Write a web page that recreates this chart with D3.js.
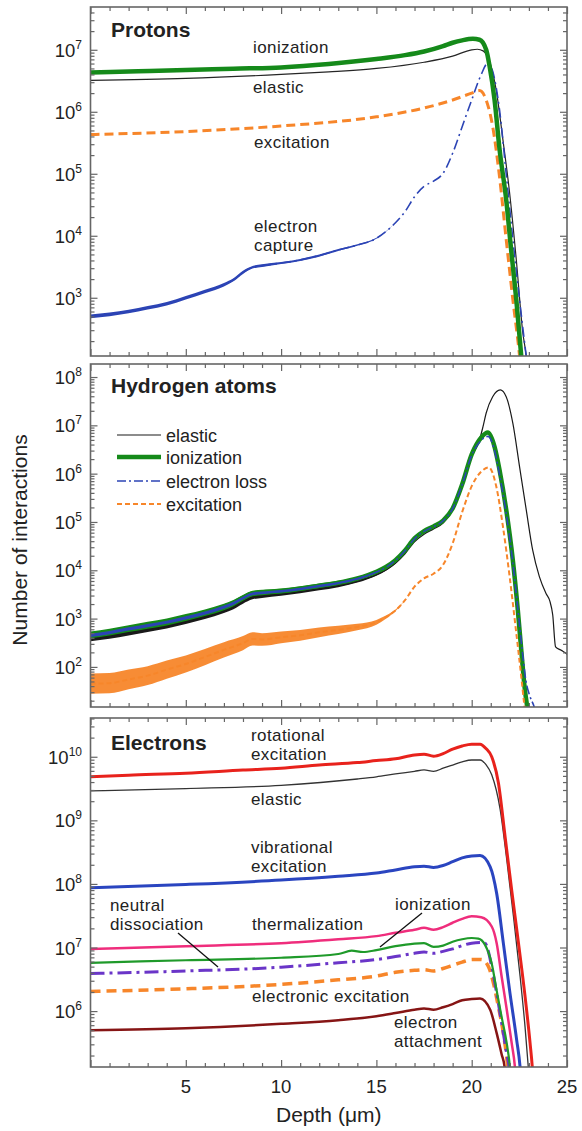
<!DOCTYPE html>
<html><head><meta charset="utf-8">
<script src="https://cdn.jsdelivr.net/npm/d3@7"></script>
<style>body{margin:0;background:#fff} text{font-family:"Liberation Sans",Arial,sans-serif;fill:#222}</style>
</head><body><svg id="c" width="582" height="1131"></svg>
<script>
// ---------- DATA ----------
// x ticks
const depthTicks = [5, 10, 15, 20, 25];
const panelTitles = ["Protons", "Hydrogen atoms", "Electrons"];
const yDecades = [[3,4,5,6,7],[2,3,4,5,6,7,8],[6,7,8,9,10]];
const yDomains = [[115, 4.9e7],[14.8, 1.86e8],[1.32e5, 4.07e10]];

// Protons: [depth (um), count, scatter factor]
const protonElastic = [[0,3.2e6],[5,3.45e6],[10,4.0e6],[12.5,4.4e6],[15,5.0e6],[17.5,6.3e6],[19,7.9e6],[20,1.0e7],[20.3,1.02e7],[20.6,9.6e6],[20.94,6.5e6],[21.29,2.2e6],[21.64,3.5e5],[21.99,4.9e4],[22.34,4.1e3],[22.68,2.75e2],[22.86,1.15e2],[23.0,40]];
const protonIonization = [[0,4.3e6],[2.5,4.5e6],[5,4.7e6],[7.5,4.95e6],[10,5.2e6],[12.5,5.9e6],[15,7.1e6],[16.5,8.2e6],[17.5,9.4e6],[18.5,1.15e7],[19,1.3e7],[19.5,1.42e7],[20.06,1.5e7],[20.41,1.45e7],[20.76,1.0e7],[20.94,5.4e6],[21.2,1.55e6],[21.46,2.5e5],[21.81,3.8e4],[22.07,5.9e3],[22.34,930],[22.6,115],[22.75,40]];
const protonExcitation = [[0,4.3e5],[5,4.8e5],[10,5.9e5],[15,8.3e5],[17.5,1.15e6],[19,1.55e6],[20,2.0e6],[20.41,2.2e6],[20.76,1.55e6],[21.1,5.8e5],[21.46,8.9e4],[21.81,8.7e3],[22.16,930],[22.51,115],[22.65,40]];
const protonCapture = [[0,500,1.07],[1,540,1.07],[2,600,1.07],[3,690,1.07],[4,800,1.07],[5,1000,1.07],[6,1260,1.07],[7,1620,1.07],[7.5,1950,1.06],[8,2570,1.06],[8.5,3100,1.05],[9,3300,1.05],[10,3630,1.04],[11,4070,1.04],[12,4790,1.04],[13,5890,1.035],[14,7080,1.03],[15,9100,1.02],[15.5,1.17e4,1.01],[16,1.62e4],[16.5,2.45e4],[17,4.27e4],[17.5,6.3e4],[18,7.6e4],[18.5,1.02e5],[19,2.14e5],[19.5,5.75e5],[20,1.55e6],[20.5,4.0e6],[20.85,6.1e6],[21.1,4.5e6],[21.46,1.07e6],[21.81,1.0e5],[22.16,8.7e3],[22.51,930],[22.86,115],[23.05,40]];

// Hydrogen atoms
const hElastic = [[0,380,1.12],[1,430,1.12],[2,500,1.12],[3,590,1.12],[4,700,1.12],[5,870,1.12],[6,1100,1.12],[7,1450,1.11],[7.5,1740,1.11],[8,2240,1.1],[8.5,2750,1.1],[9,2950,1.1],[10,3240,1.09],[11,3630,1.08],[12,4170,1.08],[13,4790,1.07],[14,5890,1.06],[15,8100,1.05],[15.5,1.02e4,1.04],[16,1.4e4,1.02],[16.5,2.2e4],[17,3.9e4],[17.5,5.6e4],[18,7.2e4],[18.5,9.5e4],[19,1.8e5],[19.5,6.5e5],[20,2.3e6],[20.41,5.0e6],[20.59,9.3e6],[20.76,1.8e7],[21.1,3.9e7],[21.5,5.4e7],[21.81,3.9e7],[22.16,1.1e7],[22.51,1.4e6],[22.86,1.8e5],[23.2,2.6e4],[23.55,7.4e3],[23.9,3.3e3],[24.1,2.3e3],[24.25,1.2e3],[24.4,260],[24.7,220],[24.95,190],[25,180]];
const hIonization = [[0,460,1.18],[1,525,1.18],[2,620,1.18],[3,725,1.18],[4,850,1.18],[5,1050,1.18],[6,1320,1.17],[7,1740,1.17],[7.5,2090,1.16],[8,2690,1.15],[8.5,3310,1.14],[9,3470,1.14],[10,3720,1.13],[11,4170,1.12],[12,4790,1.11],[13,5500,1.1],[14,6760,1.08],[15,9300,1.06],[15.5,1.17e4,1.04],[16,1.62e4,1.02],[16.5,2.57e4],[17,4.57e4],[17.5,6.46e4],[18,8.1e4],[18.5,1.07e5],[19,1.9e5],[19.5,6.0e5],[20,2.5e6],[20.5,5.6e6],[20.85,7.1e6],[21.2,3.6e6],[21.46,1.2e6],[21.81,1.8e5],[22.16,1.6e4],[22.42,1.5e3],[22.6,224],[22.77,40],[22.95,12]];
const hElectronLoss = [[0,450,1.08],[1,515,1.08],[2,610,1.08],[3,715,1.08],[4,840,1.08],[5,1040,1.08],[6,1300,1.08],[7,1720,1.08],[7.5,2060,1.08],[8,2650,1.07],[8.5,3260,1.07],[9,3420,1.07],[10,3670,1.06],[11,4100,1.06],[12,4720,1.06],[13,5420,1.05],[14,6650,1.05],[15,9150,1.03],[15.5,1.15e4],[16,1.6e4],[16.5,2.53e4],[17,4.5e4],[17.5,6.4e4],[18,8.0e4],[18.5,1.06e5],[19,1.88e5],[19.5,5.9e5],[20,2.4e6],[20.5,4.9e6],[20.85,5.9e6],[21.2,3.0e6],[21.46,9.5e5],[21.81,1.5e5],[22.16,1.4e4],[22.42,1.6e3],[22.65,220],[22.85,50],[23.05,25],[23.25,16],[23.4,10]];
const hExcitation = [[0,45,1.62],[1,46,1.62],[2,55,1.6],[3,66,1.57],[4,88,1.54],[5,115,1.5],[6,160,1.47],[7,225,1.44],[8,310,1.4],[8.5,380,1.37],[9,370,1.35],[10,410,1.32],[11,450,1.29],[12,520,1.26],[13,585,1.22],[14,670,1.17],[15,840,1.12],[15.5,1070,1.08],[16,1480,1.04],[16.5,2400],[17,4570],[17.5,6800],[18,8500],[18.5,1.3e4],[19,3.6e4],[19.5,1.6e5],[20,5.5e5],[20.5,1.1e6],[20.9,1.35e6],[21.29,5.4e5],[21.64,8e4],[21.99,7.4e3],[22.34,500],[22.6,63],[22.77,15],[22.85,8]];

// Electrons
const eRotational = [[0,4.84e9],[2,5.13e9],[5,5.5e9],[8,6.17e9],[10,6.6e9],[12,7.4e9],[14,8.1e9],[15,8.7e9],[16,9.3e9],[17,1.07e10],[17.5,1.1e10],[18,1.02e10],[18.5,1.12e10],[19,1.32e10],[19.5,1.48e10],[20,1.58e10],[20.44,1.58e10],[20.75,1.35e10],[21.05,1.0e10],[21.4,3.9e9],[21.75,5.6e8],[22.1,7.9e7],[22.45,1.2e7],[22.8,1.7e6],[23.06,3.2e5],[23.18,1.3e5],[23.25,6e4]];
const eElastic = [[0,2.9e9],[5,3.16e9],[10,3.55e9],[14,4.47e9],[15,4.84e9],[16,5.37e9],[17,5.9e9],[17.5,6.2e9],[18,5.9e9],[18.5,6.6e9],[19,7.4e9],[19.5,8.3e9],[20,8.9e9],[20.44,8.9e9],[20.75,7.5e9],[21.05,5.2e9],[21.49,1.5e9],[21.84,2.4e8],[22.19,3.1e7],[22.54,3.5e6],[22.8,5.6e5],[22.97,1.3e5],[23.05,6e4]];
const eVibrational = [[0,8.7e7],[5,9.8e7],[10,1.15e8],[13,1.32e8],[15,1.48e8],[16,1.66e8],[17,1.86e8],[17.5,1.9e8],[18,1.82e8],[18.5,1.95e8],[19,2.24e8],[19.5,2.57e8],[20,2.75e8],[20.44,2.8e8],[20.97,1.86e8],[21.31,7.1e7],[21.66,1.17e7],[22.01,1.9e6],[22.36,3.5e5],[22.54,1.3e5],[22.62,6e4]];
const eThermalization = [[0,9.5e6],[5,1.05e7],[10,1.17e7],[13,1.35e7],[15,1.51e7],[16,1.7e7],[17,1.9e7],[17.5,2.04e7],[18,1.9e7],[18.5,2.09e7],[19,2.45e7],[19.5,2.82e7],[20,3.09e7],[20.5,3.0e7],[21.05,2.14e7],[21.31,1.17e7],[21.57,3.5e6],[21.84,1.05e6],[22.1,3.1e5],[22.27,1.3e5],[22.35,6e4]];
const eIonization = [[0,5.75e6],[5,6.3e6],[10,6.9e6],[13,7.9e6],[13.7,8.9e6],[14.3,8.5e6],[15,9.1e6],[16,1.05e7],[17,1.15e7],[17.5,1.17e7],[18,1.02e7],[18.5,1.07e7],[19,1.23e7],[19.5,1.35e7],[20,1.41e7],[20.35,1.38e7],[20.7,1.1e7],[21.05,5.6e6],[21.31,2.1e6],[21.57,8.1e5],[21.84,3.1e5],[22.01,1.3e5],[22.1,6e4]];
const eDissociation = [[0,3.9e6],[5,4.27e6],[10,4.9e6],[13,5.75e6],[15,6.46e6],[16,7.2e6],[17,8.1e6],[17.5,8.5e6],[18,8.1e6],[18.5,8.7e6],[19,9.5e6],[19.5,1.07e7],[20,1.17e7],[20.5,1.2e7],[20.7,1.17e7],[21.05,5.0e6],[21.31,1.9e6],[21.57,6.5e5],[21.84,2.1e5],[21.96,1.3e5],[22.05,6e4]];
const eElectronic = [[0,2.04e6],[5,2.24e6],[10,2.63e6],[13,3.1e6],[15,3.55e6],[16,4.07e6],[17,4.37e6],[17.5,4.47e6],[18,4.27e6],[18.5,4.68e6],[19,5.25e6],[19.5,5.9e6],[20,6.46e6],[20.5,6.5e6],[20.88,5.0e6],[21.14,2.75e6],[21.4,1.17e6],[21.66,4.5e5],[21.89,1.3e5],[21.98,6e4]];
const eAttachment = [[0,5.0e5],[5,5.37e5],[10,6.3e5],[13,7.2e5],[15,8.3e5],[16,9.3e5],[17,1.05e6],[17.5,1.1e6],[18,1.05e6],[18.5,1.15e6],[19,1.29e6],[19.5,1.48e6],[20,1.55e6],[20.44,1.58e6],[20.97,1.05e6],[21.31,4.5e5],[21.57,2.1e5],[21.73,1.3e5],[21.8,6e4]];

const legendLabels = ["elastic","ionization","electron loss","excitation"];

// ---------- DRAW ----------
const svg = d3.select('#c');
const x = d3.scaleLinear().domain([0,25]).range([90.5,567]);
const X0 = x.range()[0], X1 = x.range()[1];

const panels = [
 {top:7,bottom:356,series:[
   {d:protonElastic,c:'#262626',w:1.2},
   {d:protonExcitation,c:'#f7862a',w:3,dash:'9,5'},
   {d:protonCapture,c:'#2c44b5',w:1.6,dash:'10,4,2,4'},
   {d:protonIonization,c:'#158a1a',w:4.5}]},
 {top:364,bottom:707,series:[
   {d:hElastic,c:'#1a1a1a',w:1.2},
   {d:hIonization,c:'#158a1a',w:4.5},
   {d:hElectronLoss,c:'#2c44b5',w:1.6,dash:'9,3,2,3'},
   {d:hExcitation,c:'#f7862a',w:2,dash:'5,3',bandOpacity:0.95}]},
 {top:718,bottom:1067,series:[
   {d:eAttachment,c:'#861515',w:2.5},
   {d:eElectronic,c:'#f7862a',w:3.5,dash:'10,6'},
   {d:eDissociation,c:'#6a35c8',w:3,dash:'14,5,3,5'},
   {d:eIonization,c:'#1f9a2a',w:2.2},
   {d:eThermalization,c:'#ef2d7c',w:2.5},
   {d:eVibrational,c:'#2a45c0',w:3},
   {d:eElastic,c:'#333',w:1.3},
   {d:eRotational,c:'#e8221c',w:3}]}
];

panels.forEach((p,i)=>{
  const y = d3.scaleLog().domain(yDomains[i]).range([p.bottom,p.top]);
  p.y = y;
  const g = svg.append('g');
  const cid = 'clip'+i;
  svg.append('clipPath').attr('id',cid).append('rect')
    .attr('x',X0).attr('y',p.top).attr('width',X1-X0).attr('height',p.bottom-p.top);
  const plot = g.append('g').attr('clip-path',`url(#${cid})`);
  const line = d3.line().x(d=>x(d[0])).y(d=>y(d[1])).curve(d3.curveMonotoneX);
  const area = d3.area().x(d=>x(d[0]))
    .y0(d=>y(d[1]/(d[2]||1))).y1(d=>y(d[1]*(d[2]||1))).curve(d3.curveMonotoneX);
  p.series.forEach(s=>{
    if (s.d.some(d=>d[2])) {
      const noisy = s.d.filter(d=>d[2]);
      const next = s.d.find(d=>!d[2]);
      plot.append('path').attr('d',area(noisy.concat([[next[0],next[1],1]])))
        .attr('fill',s.c).attr('fill-opacity',s.bandOpacity||1).attr('stroke','none');
    }
    plot.append('path').attr('d',line(s.d)).attr('fill','none')
      .attr('stroke',s.c).attr('stroke-width',s.w)
      .attr('stroke-dasharray',s.dash||null).attr('stroke-linejoin','round');
  });

  // axes ticks
  const lo = Math.log10(yDomains[i][0]), hi = Math.log10(yDomains[i][1]);
  const major = yDecades[i].map(k=>Math.pow(10,k));
  const minor = [];
  for (let k=Math.floor(lo); k<=Math.ceil(hi); k++)
    for (let m=2;m<=9;m++){ const v=m*Math.pow(10,k); if (Math.log10(v)>lo && Math.log10(v)<hi) minor.push(v); }
  const style = sel => { sel.select('.domain').remove(); sel.selectAll('line').attr('stroke','#666').attr('stroke-width',1.2); };
  g.append('g').attr('transform',`translate(${X0},0)`).call(d3.axisLeft(y).tickValues(major).tickSize(-7).tickFormat('')).call(style);
  g.append('g').attr('transform',`translate(${X0},0)`).call(d3.axisLeft(y).tickValues(minor).tickSize(-4).tickFormat('')).call(style);
  g.append('g').attr('transform',`translate(${X1},0)`).call(d3.axisRight(y).tickValues(major).tickSize(-7).tickFormat('')).call(style);
  g.append('g').attr('transform',`translate(${X1},0)`).call(d3.axisRight(y).tickValues(minor).tickSize(-4).tickFormat('')).call(style);
  const xMajor = [0,5,10,15,20,25], xMinor = d3.range(1,25).filter(v=>v%5);
  g.append('g').attr('transform',`translate(0,${p.bottom})`).call(d3.axisBottom(x).tickValues(xMajor).tickSize(-7).tickFormat('')).call(style);
  g.append('g').attr('transform',`translate(0,${p.bottom})`).call(d3.axisBottom(x).tickValues(xMinor).tickSize(-4).tickFormat('')).call(style);
  g.append('g').attr('transform',`translate(0,${p.top})`).call(d3.axisTop(x).tickValues(xMajor).tickSize(-7).tickFormat('')).call(style);
  g.append('g').attr('transform',`translate(0,${p.top})`).call(d3.axisTop(x).tickValues(xMinor).tickSize(-4).tickFormat('')).call(style);
  // frame
  g.append('rect').attr('x',X0).attr('y',p.top).attr('width',X1-X0).attr('height',p.bottom-p.top)
    .attr('fill','none').attr('stroke','#666').attr('stroke-width',1.6);
  // y tick labels
  yDecades[i].forEach(k=>{
    const t = g.append('text').attr('x',82).attr('y',y(Math.pow(10,k))+7).attr('text-anchor','end').attr('font-size',18.5);
    t.append('tspan').text('10');
    t.append('tspan').attr('dy',-8).attr('font-size',12).text(k);
  });
  // title
  g.append('text').attr('x',111).attr('y',[37,393,750][i]).attr('font-size',21).attr('font-weight','bold').text(panelTitles[i]);
});

// x tick labels
depthTicks.forEach(v=>{
  svg.append('text').attr('x',x(v)).attr('y',1093).attr('text-anchor','middle').attr('font-size',18.5).text(v);
});
svg.append('text').attr('x',(X0+X1)/2).attr('y',1122).attr('text-anchor','middle').attr('font-size',21).text('Depth (μm)');
svg.append('text').attr('transform','translate(27,540) rotate(-90)').attr('text-anchor','middle').attr('font-size',21).text('Number of interactions');

// annotations
const ann = (t,xx,yy)=>svg.append('text').attr('x',xx).attr('y',yy).attr('font-size',17).attr('letter-spacing',0.4).text(t);
ann('ionization',253,53); ann('elastic',253,93); ann('excitation',254,148);
ann('electron',254,232); ann('capture',254,251);
ann('rotational',251,741); ann('excitation',251,760); ann('elastic',251,805);
ann('vibrational',251,853); ann('excitation',251,872);
ann('neutral',110,911); ann('dissociation',110,930);
ann('thermalization',252,930); ann('ionization',395,910);
ann('electronic excitation',252,1002);
ann('electron',394,1028); ann('attachment',394,1047);
svg.append('line').attr('x1',422).attr('y1',913).attr('x2',380).attr('y2',947).attr('stroke','#111').attr('stroke-width',1.3);
svg.append('line').attr('x1',178).attr('y1',933).attr('x2',218).attr('y2',967).attr('stroke','#111').attr('stroke-width',1.3);

// legend (middle panel)
const ls = panels[1].series;
const legY = [435,457,481,504];
legendLabels.forEach((lab,j)=>{
  const s = ls[j];
  svg.append('line').attr('x1',117).attr('x2',161).attr('y1',legY[j]).attr('y2',legY[j])
    .attr('stroke',s.c).attr('stroke-width',s.w).attr('stroke-dasharray',s.dash||null);
  svg.append('text').attr('x',166).attr('y',legY[j]+6.5).attr('font-size',18).text(lab);
});
</script></body></html>
